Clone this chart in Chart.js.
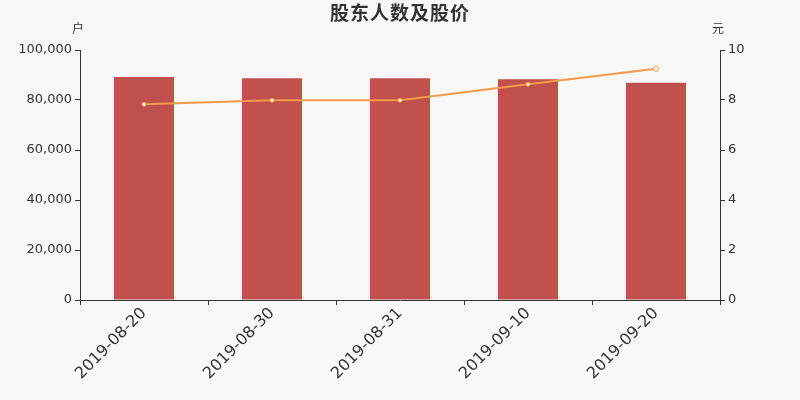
<!DOCTYPE html>
<html lang="zh">
<head>
    <meta charset="UTF-8">
    <title>股东人数及股价</title>
    <script src="https://cdn.jsdelivr.net/npm/chart.js"></script>
    <style>
        html, body { margin: 0; padding: 0; background: #f8f8f8; }
        #wrap { width: 800px; height: 400px; position: relative; }
    </style>
</head>
<body>
<div id="wrap"><canvas id="chart"></canvas></div>
<script>
const dates = ["2019-08-20", "2019-08-30", "2019-08-31", "2019-09-10", "2019-09-20"];
const holders = [89200, 88700, 88700, 88300, 86900];
const prices = [7.83, 7.99, 7.99, 8.63, 9.25];

const FONT = "'DejaVu Sans', sans-serif";
const INK = '#333';

// title and the two unit labels above the axes
const headerPlugin = {
    id: 'header',
    afterDraw(chart) {
        const ctx = chart.ctx;
        const { left, right } = chart.chartArea;
        ctx.save();
        ctx.fillStyle = INK;
        ctx.textBaseline = 'middle';
        ctx.textAlign = 'center';
        ctx.font = "bold 19px 'Noto Sans CJK SC', sans-serif";
        ctx.letterSpacing = '1px';
        ctx.fillText('股东人数及股价', 400, 13);
        ctx.letterSpacing = '0px';
        ctx.font = "12px 'Noto Sans CJK SC', sans-serif";
        ctx.fillText('户', left - 2, 28);
        ctx.fillText('元', right - 2, 28);
        ctx.restore();
    }
};

new Chart(document.getElementById('chart'), {
    data: {
        labels: dates,
        datasets: [
            {
                type: 'line',
                label: '股价',
                data: prices,
                yAxisID: 'y1',
                order: 0,
                borderColor: '#f5994a',
                borderWidth: 2,
                backgroundColor: '#ffffff',
                pointBorderColor: '#f5994a',
                pointBackgroundColor: '#ffffff',
                pointBorderWidth: 1,
                pointRadius: ctx => ctx.dataIndex === dates.length - 1 ? 2.5 : 2,
                tension: 0
            },
            {
                type: 'bar',
                label: '股东人数',
                data: holders,
                yAxisID: 'y',
                order: 1,
                backgroundColor: '#c0504d',
                categoryPercentage: 1,
                barPercentage: 0.47
            }
        ]
    },
    options: {
        responsive: true,
        maintainAspectRatio: false,
        animation: false,
        layout: { padding: { top: 50, left: 0, right: 0, bottom: 0 } },
        plugins: {
            legend: { display: false },
            title: { display: false },
            tooltip: { enabled: false }
        },
        scales: {
            x: {
                offset: true,
                grid: { drawOnChartArea: false, drawTicks: true, tickLength: 5, color: INK, offset: true },
                border: { color: INK, width: 1 },
                ticks: {
                    color: INK,
                    font: { family: FONT, size: 16 },
                    minRotation: 45,
                    maxRotation: 45,
                    padding: -1
                },
                afterFit(scale) { scale.height = 100; }
            },
            y: {
                position: 'left',
                min: 0,
                max: 100000,
                grid: { drawOnChartArea: false, drawTicks: true, tickLength: 5, color: INK },
                border: { color: INK, width: 1 },
                ticks: {
                    stepSize: 20000,
                    color: INK,
                    font: { family: FONT, size: 13 },
                    padding: 3,
                    callback: v => v.toLocaleString('en-US')
                },
                afterFit(scale) { scale.width = 80; }
            },
            y1: {
                position: 'right',
                min: 0,
                max: 10,
                grid: { drawOnChartArea: false, drawTicks: true, tickLength: 5, color: INK },
                border: { color: INK, width: 1 },
                ticks: {
                    stepSize: 2,
                    color: INK,
                    font: { family: FONT, size: 13 },
                    padding: 3
                },
                afterFit(scale) { scale.width = 80; }
            }
        }
    },
    plugins: [headerPlugin]
});
</script>
</body>
</html>
